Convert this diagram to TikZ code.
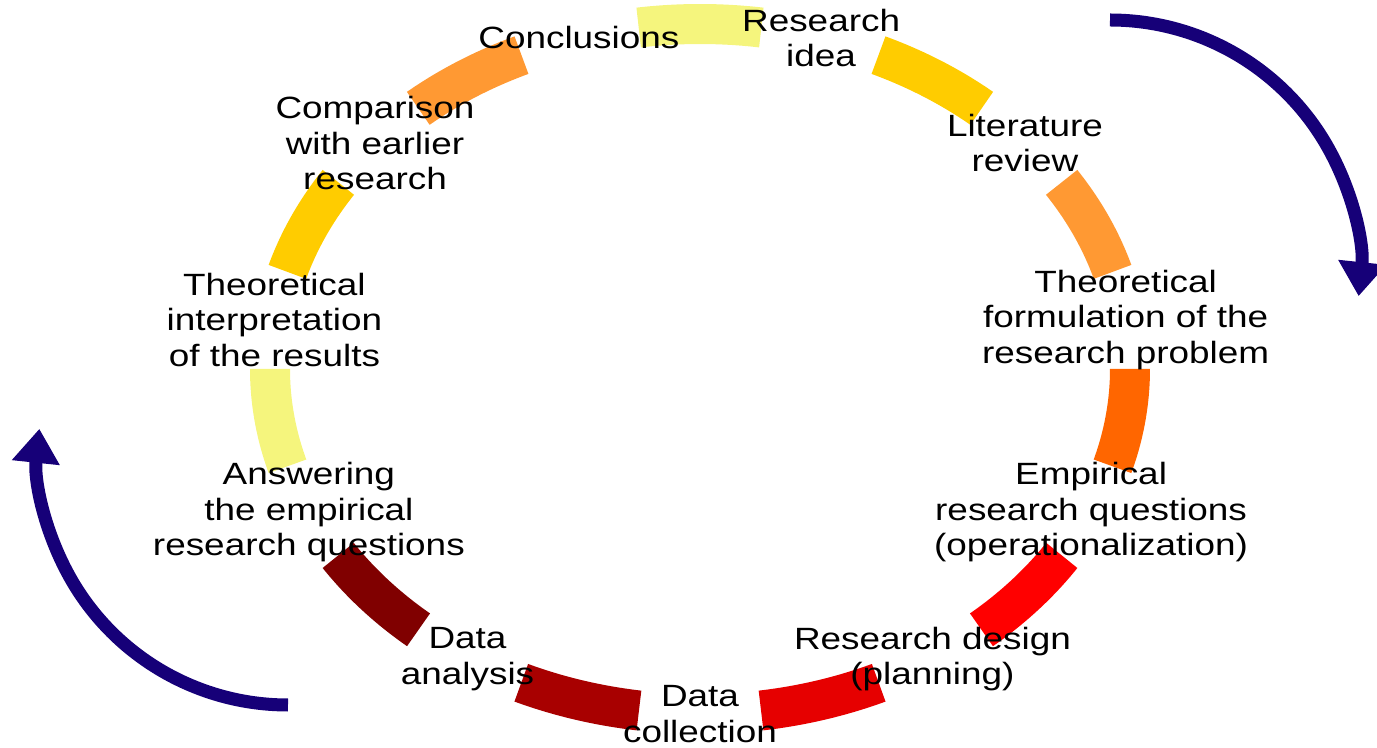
\documentclass[tikz,border=0pt]{standalone}
\usepackage{fontspec}
\setmainfont{Liberation Sans}[FakeStretch=1.2]
\usetikzlibrary{arrows.meta}
\definecolor{paleyellow}{RGB}{245,245,125}
\definecolor{gold}{RGB}{255,204,0}
\definecolor{lightorange}{RGB}{255,153,51}
\definecolor{deeporange}{RGB}{255,102,0}
\definecolor{brightred}{RGB}{255,0,0}
\definecolor{midred}{RGB}{230,0,0}
\definecolor{darkred}{RGB}{168,0,0}
\definecolor{maroon}{RGB}{128,0,0}
\definecolor{navy}{RGB}{22,0,120}
\tikzset{
    segment/.style={line width=0.8cm},
    stagetext/.style={align=center, inner sep=0pt, font=\fontsize{17.5}{20.2}\selectfont},
    cyclearrow/.style={navy, line width=0.26cm, -{Triangle[width=0.92cm,length=0.68cm]}}
}
\begin{document}
\begin{tikzpicture}
        \useasboundingbox (-14,-7.58) rectangle (13.54,7.38);
        % ring segments
        \draw[segment, paleyellow] (81.8:8.6 and 6.9) arc[start angle=81.8, end angle=98.2, x radius=8.6, y radius=6.9];
        \draw[segment, gold] (49.07:8.6 and 6.9) arc[start angle=49.07, end angle=65.47, x radius=8.6, y radius=6.9];
        \draw[segment, lightorange] (16.35:8.6 and 6.9) arc[start angle=16.35, end angle=32.75, x radius=8.6, y radius=6.9];
        \draw[segment, deeporange] (-16.38:8.6 and 6.9) arc[start angle=-16.38, end angle=0.02, x radius=8.6, y radius=6.9];
        \draw[segment, brightred] (-49.11:8.6 and 6.9) arc[start angle=-49.11, end angle=-32.71, x radius=8.6, y radius=6.9];
        \draw[segment, midred] (-81.84:8.6 and 6.9) arc[start angle=-81.84, end angle=-65.44, x radius=8.6, y radius=6.9];
        \draw[segment, darkred] (-114.56:8.6 and 6.9) arc[start angle=-114.56, end angle=-98.16, x radius=8.6, y radius=6.9];
        \draw[segment, maroon] (-147.29:8.6 and 6.9) arc[start angle=-147.29, end angle=-130.89, x radius=8.6, y radius=6.9];
        \draw[segment, paleyellow] (-180.02:8.6 and 6.9) arc[start angle=-180.02, end angle=-163.62, x radius=8.6, y radius=6.9];
        \draw[segment, gold] (147.25:8.6 and 6.9) arc[start angle=147.25, end angle=163.65, x radius=8.6, y radius=6.9];
        \draw[segment, lightorange] (114.53:8.6 and 6.9) arc[start angle=114.53, end angle=130.93, x radius=8.6, y radius=6.9];
        % stages
        \node[stagetext] (idea) at (73.64:8.6 and 6.9) {Research\\idea};
        \node[stagetext] (litreview) at (40.91:8.6 and 6.9) {Literature\\review};
        \node[stagetext] (formulation) at (8.18:8.6 and 6.9) {Theoretical\\formulation of the\\research problem};
        \node[stagetext] (empirical) at (-24.55:8.6 and 6.9) {Empirical\\research questions\\(operationalization)};
        \node[stagetext] (design) at (-57.27:8.6 and 6.9) {Research design\\(planning)};
        \node[stagetext] (collection) at (-90:8.6 and 6.9) {Data\\collection};
        \node[stagetext] (analysis) at (-122.73:8.6 and 6.9) {Data\\analysis};
        \node[stagetext] (answering) at (-155.45:8.6 and 6.9) {Answering\\the empirical\\research questions};
        \node[stagetext] (interpretation) at (171.82:8.6 and 6.9) {Theoretical\\interpretation\\of the results};
        \node[stagetext] (comparison) at (139.09:8.6 and 6.9) {Comparison\\with earlier\\research};
        \node[stagetext] (conclusions) at (106.36:8.6 and 6.9) {Conclusions};
        % direction arrows
        \draw[cyclearrow] (8.2,6.98) arc[start angle=90, end angle=-6, radius=5];
        \draw[cyclearrow] (-8.24,-6.72) arc[start angle=270, end angle=174, radius=5];
    \end{tikzpicture}
\end{document}
